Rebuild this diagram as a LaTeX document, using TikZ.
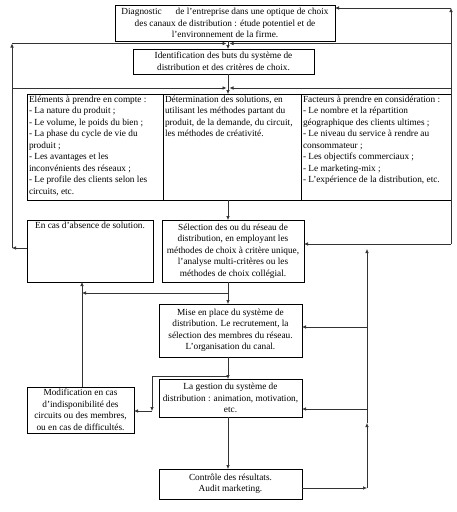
\documentclass[tikz,border=0pt]{standalone}
\usepackage{fontspec}
\setmainfont{Liberation Serif}
\usetikzlibrary{arrows.meta}
\newcommand\tbx[3]{\parbox[c][#2][t]{#1}{\raggedright #3}}
\newcommand\cbx[3]{\parbox[c][#2][t]{#1}{\centering #3}}
\begin{document}
\begin{tikzpicture}[x=1pt,y=-1pt,
 box/.style={draw=black, line width=0.9pt, inner sep=2pt, outer sep=0pt, font=\fontsize{9.3}{11.5}\selectfont, align=center},
 arr/.style={draw=black!80, line width=0.6pt, -{Latex[length=4pt,width=3.5pt]}},
 ln/.style={draw=black!80, line width=0.6pt}]
\useasboundingbox[fill=white] (0,0) rectangle (457,512);

\node[box, minimum width=220pt, minimum height=36pt] (D) at (225,23) {Diagnostic\hspace{1.5em}de l’entreprise dans une optique de choix\\des canaux de distribution : étude potentiel et de\\l’environnement de la firme.};
\node[box, minimum width=181pt, minimum height=25pt] (I) at (223.5,61.5) {Identification des buts du système de\\distribution et des critères de choix.};

\node[box, anchor=north west] (A) at (27,94) {\tbx{132pt}{102pt}{Eléments à prendre en compte :\\- La nature du produit ;\\- Le volume, le poids du bien ;\\- La phase du cycle de vie du\\produit ;\\- Les avantages et les\\inconvénients des réseaux ;\\- Le profile des clients selon les\\circuits, etc.}};
\node[box, anchor=north west] (B) at (163,94) {\tbx{134pt}{102pt}{Détermination des solutions, en\\utilisant les méthodes partant du\\produit, de la demande, du circuit,\\les méthodes de créativité.}};
\node[box, anchor=north west] (C) at (301,94) {\tbx{146pt}{102pt}{Facteurs à prendre en considération :\\- Le nombre et la répartition\\géographique des clients ultimes ;\\- Le niveau du service à rendre au\\consommateur ;\\- Les objectifs commerciaux ;\\- Le marketing-mix ;\\- L’expérience de la distribution, etc.}};

\node[box, anchor=north west] (E) at (27,220) {\cbx{122pt}{58pt}{En cas d’absence de solution.}};
\node[box, minimum width=142pt, minimum height=62pt] (S) at (233,251) {Sélection des ou du réseau de\\distribution, en employant les\\méthodes de choix à critère unique,\\l’analyse multi-critères ou les\\méthodes de choix collégial.};
\node[box, minimum width=143pt, minimum height=53pt] (M) at (230.5,330.5) {Mise en place du système de\\distribution. Le recrutement, la\\sélection des membres du réseau.\\L’organisation du canal.};
\node[box, minimum width=107pt, minimum height=46pt] (Mo) at (80.5,410) {Modification en cas\\d’indisponibilité des\\circuits ou des membres,\\ou en cas de difficultés.};
\node[box, minimum width=143pt, minimum height=38pt] (G) at (230.5,398) {La gestion du système de\\distribution : animation, motivation,\\etc.};
\node[box, minimum width=143pt, minimum height=30pt] (Ct) at (230.5,484) {Contrôle des résultats.\\Audit marketing.};

\coordinate (cx) at (228,0);
\coordinate (J1) at (228,43.5);
\coordinate (J2) at (228,88);
\coordinate (LB) at (12,248);
\coordinate (LT) at (12,43.5);
\coordinate (LM) at (12,88);
\coordinate (RB) at (451,244);
\coordinate (RT) at (451,8);
\coordinate (RM1) at (451,43.5);
\coordinate (RM2) at (451,88);
\coordinate (J3) at (228,293);
\coordinate (K3) at (82,293);
\coordinate (J4) at (228,376);
\coordinate (K4) at (152,411);
\coordinate (V1) at (367,488);
\coordinate (V2) at (367,423);
\coordinate (V3) at (367,249);
\coordinate (V4) at (367,327);
\coordinate (V5) at (367,409);

\draw[arr] (D.south -| cx) -- (I.north -| cx);
\draw[arr] (E.west |- LB) -- (LB);
\draw[arr] (LB) -- (LT);
\draw[arr] (LT) -- ([xshift=-1.5pt]J1);
\draw[arr] (LM) -- ([xshift=-1.5pt]J2);
\draw[arr] (RB) -- (RT);
\draw[arr] (RT) -- (D.east |- RT);
\draw[arr] (RM1) -- ([xshift=1.5pt]J1);
\draw[arr] (RM2) -- ([xshift=1.5pt]J2);
\draw[arr] (RB) -- (S.east |- RB);
\draw[ln] (I.south -| cx) -- (J2);
\draw[arr] (J2) -- (B.north -| cx);
\draw[arr] (B.south -| cx) -- (S.north -| cx);
\draw[arr] (S.south -| cx) -- (M.north -| cx);
\draw[arr] (J3) -- (K3);
\draw[arr] (Mo.north -| K3) -- (E.south -| K3);
\draw[arr] (M.south -| cx) -- (G.north -| cx);
\draw[arr] (J4) -| (K4);
\draw[arr] (K4) -- (Mo.east |- K4);
\draw[arr] (G.south -| cx) -- (Ct.north -| cx);
\draw[arr] (Ct.east |- V1) -- (V1);
\draw[arr] (V1) -- (V2);
\draw[arr] (V2) -- (V3);
\draw[arr] (V4) -- (M.east |- V4);
\draw[arr] (V5) -- (G.east |- V5);
\end{tikzpicture}
\end{document}
